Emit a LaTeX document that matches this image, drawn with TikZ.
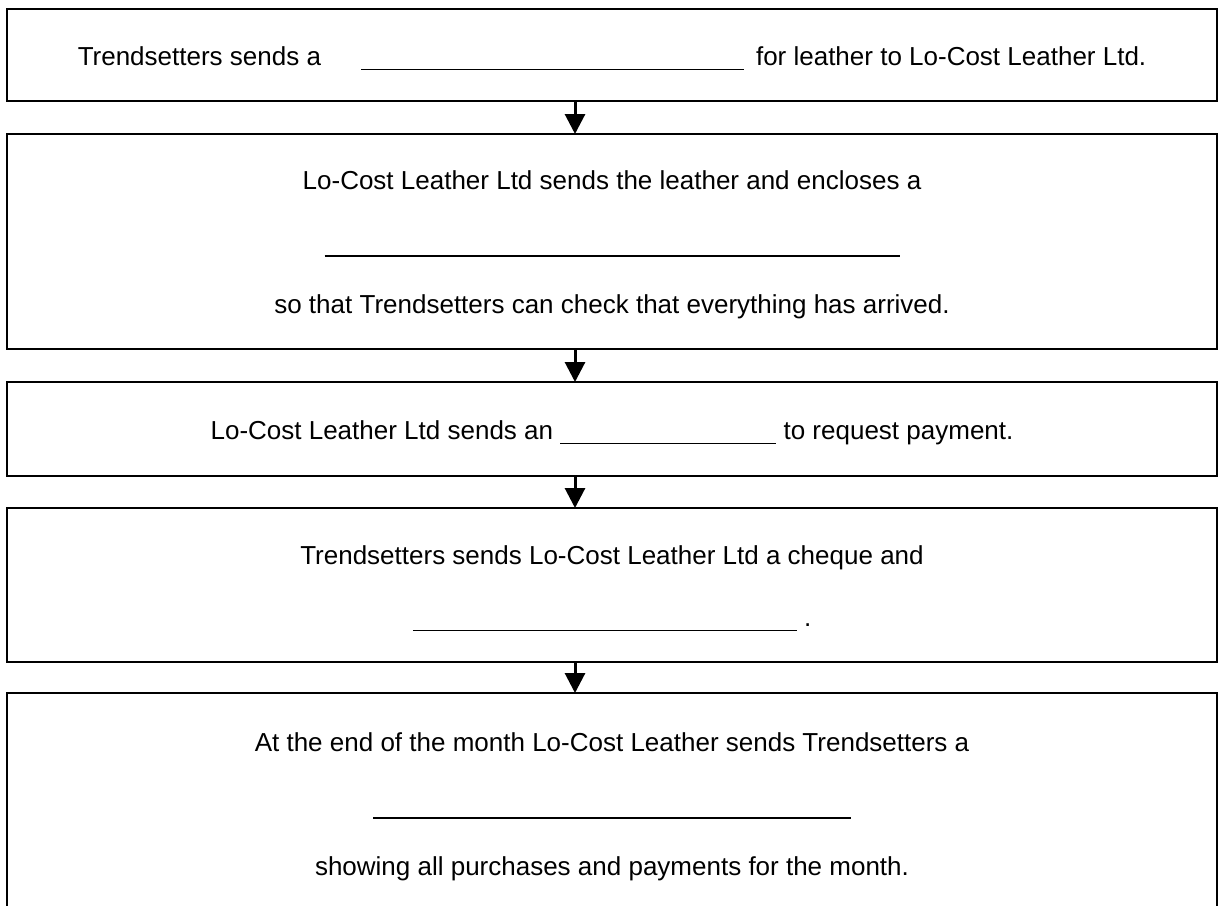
\documentclass[tikz,border=0pt]{standalone}
\usepackage{fontspec}
\setmainfont{Liberation Sans}
\usepackage{tikz}
\usetikzlibrary{arrows.meta,positioning}
\newcommand{\fillin}[1]{\rule[-2.5pt]{#1}{0.8pt}}
\newcommand{\topstrut}{\rule{0pt}{12.8pt}}

\begin{document}
\begin{tikzpicture}[>={Triangle[width=10pt,length=10pt]}, node distance=16pt,
  every node/.style={font=\fontsize{13}{31}\selectfont},
  stagebox/.style={draw, line width=1pt, minimum width=605pt, align=center, inner sep=0pt, outer sep=0pt}]
\useasboundingbox (0,0) rectangle (609pt,-452.5pt);
\node[stagebox, anchor=north, minimum height=46pt] (order) at (306pt,-4.5pt) {\topstrut Trendsetters sends a\hspace{20pt}\fillin{191.5pt}\hspace{6pt}for leather to Lo-Cost Leather Ltd.};
\node[stagebox, below=16.5pt of order, minimum height=107.5pt] (delivery) {\topstrut Lo-Cost Leather Ltd sends the leather and encloses a\\ \fillin{287.5pt}\\ so that Trendsetters can check that everything has arrived.};
\node[stagebox, below=16.5pt of delivery, minimum height=47pt] (invoice) {\topstrut Lo-Cost Leather Ltd sends an \fillin{108pt} to request payment.};
\node[stagebox, below=16pt of invoice, minimum height=77pt] (payment) {\topstrut Trendsetters sends Lo-Cost Leather Ltd a cheque and\\ \fillin{192pt} .};
\node[stagebox, below=15.5pt of payment, minimum height=110.5pt] (statement) {\topstrut At the end of the month Lo-Cost Leather sends Trendsetters a\\ \fillin{239pt}\\ showing all purchases and payments for the month.};
\draw[->, line width=1.5pt] ([xshift=-18.5pt]order.south) -- ([xshift=-18.5pt]delivery.north);
\draw[->, line width=1.5pt] ([xshift=-18.5pt]delivery.south) -- ([xshift=-18.5pt]invoice.north);
\draw[->, line width=1.5pt] ([xshift=-18.5pt]invoice.south) -- ([xshift=-18.5pt]payment.north);
\draw[->, line width=1.5pt] ([xshift=-18.5pt]payment.south) -- ([xshift=-18.5pt]statement.north);
\end{tikzpicture}
\end{document}
